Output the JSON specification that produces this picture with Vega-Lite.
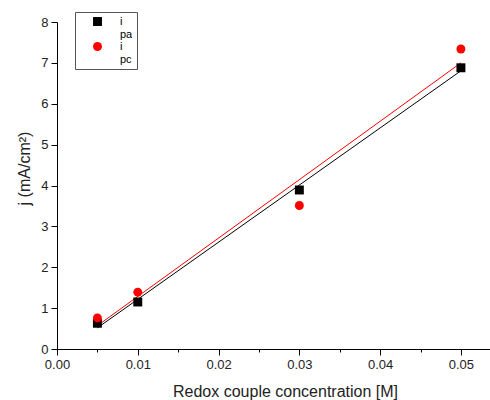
{
  "$schema": "https://vega.github.io/schema/vega-lite/v6.json",
  "width": 433,
  "height": 327,
  "autosize": {"type": "none"},
  "padding": {"left": 57, "top": 22, "right": 0, "bottom": 51},
  "background": "white",
  "config": {
    "view": {"stroke": null},
    "font": "Liberation Sans",
    "axis": {"grid": false, "domainColor": "black", "tickColor": "black", "labelColor": "#222", "titleColor": "#222", "labelFont": "Liberation Sans", "titleFont": "Liberation Sans", "titleFontWeight": "normal", "labelFlush": false}
  },
  "data": {
    "values": [
      {"x": 0.005, "j": 0.63, "series": "ipa"},
      {"x": 0.01, "j": 1.15, "series": "ipa"},
      {"x": 0.03, "j": 3.89, "series": "ipa"},
      {"x": 0.05, "j": 6.88, "series": "ipa"},
      {"x": 0.005, "j": 0.76, "series": "ipc"},
      {"x": 0.01, "j": 1.39, "series": "ipc"},
      {"x": 0.03, "j": 3.51, "series": "ipc"},
      {"x": 0.05, "j": 7.34, "series": "ipc"}
    ]
  },
  "layer": [
    {
      "transform": [{"filter": "datum.series == 'ipa'"}, {"regression": "j", "on": "x"}],
      "mark": {"type": "line", "strokeWidth": 1, "color": "black"},
      "encoding": {
        "x": {"field": "x", "type": "quantitative"},
        "y": {"field": "j", "type": "quantitative"}
      }
    },
    {
      "transform": [{"filter": "datum.series == 'ipc'"}, {"regression": "j", "on": "x"}],
      "mark": {"type": "line", "strokeWidth": 1, "color": "red"},
      "encoding": {
        "x": {"field": "x", "type": "quantitative"},
        "y": {"field": "j", "type": "quantitative"}
      }
    },
    {
      "mark": {"type": "point", "filled": true, "opacity": 1, "size": 80},
      "encoding": {
        "x": {
          "field": "x", "type": "quantitative",
          "scale": {"domain": [0, 0.0536], "nice": false, "zero": false},
          "axis": {
            "title": "Redox couple concentration [M]",
            "titleFontSize": 16,
            "titlePadding": 12,
            "titleX": 228,
            "labelFontSize": 13,
            "labelPadding": 3,
            "values": [0, 0.005, 0.01, 0.015, 0.02, 0.025, 0.03, 0.035, 0.04, 0.045, 0.05],
            "labelExpr": "abs(datum.value*100 - round(datum.value*100)) < 0.000001 ? format(datum.value, '.2f') : ''",
            "tickSize": {"condition": {"test": "abs(datum.value*100 - round(datum.value*100)) < 0.000001", "value": 6}, "value": 3}
          }
        },
        "y": {
          "field": "j", "type": "quantitative",
          "scale": {"domain": [0, 8], "nice": false},
          "axis": {
            "title": "j (mA/cm²)",
            "titleFontSize": 16,
            "titlePadding": 8,
            "titleY": 146,
            "labelFontSize": 13,
            "labelPadding": 3,
            "values": [0, 0.5, 1, 1.5, 2, 2.5, 3, 3.5, 4, 4.5, 5, 5.5, 6, 6.5, 7, 7.5, 8],
            "labelExpr": "datum.value % 1 == 0 ? format(datum.value, 'd') : ''",
            "tickSize": {"condition": {"test": "datum.value % 1 == 0", "value": 6}, "value": 3}
          }
        },
        "color": {
          "field": "series", "type": "nominal",
          "scale": {"domain": ["ipa", "ipc"], "range": ["black", "red"]},
          "legend": {
            "title": null,
            "orient": "none",
            "legendX": 18,
            "legendY": -10,
            "strokeColor": "#555",
            "fillColor": "white",
            "padding": 4,
            "symbolSize": 80,
            "symbolOffset": 13,
            "labelFontSize": 11,
            "labelColor": "black",
            "labelOffset": 17,
            "rowPadding": 0,
            "labelExpr": "datum.label == 'ipa' ? ['i', '  pa'] : ['i', '  pc']"
          }
        },
        "shape": {
          "field": "series", "type": "nominal",
          "scale": {"domain": ["ipa", "ipc"], "range": ["square", "circle"]}
        }
      }
    }
  ]
}
